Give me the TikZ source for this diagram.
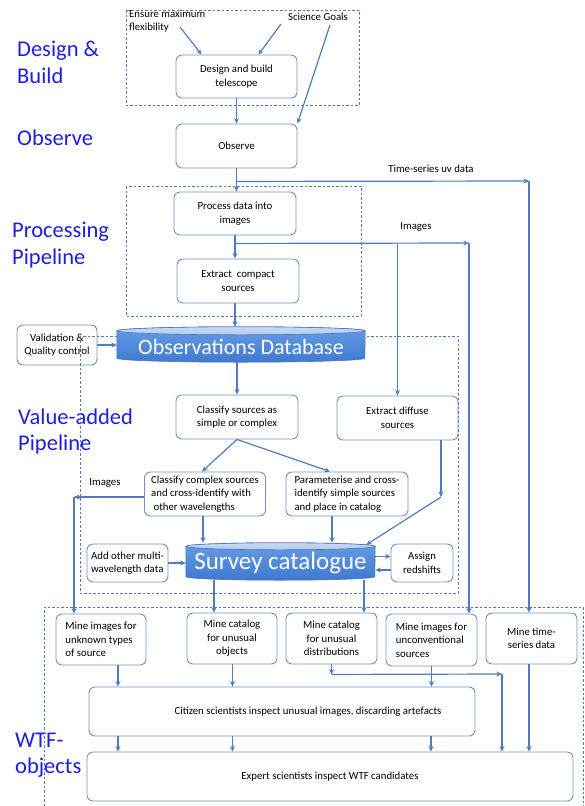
\documentclass[tikz,border=0pt]{standalone}
\usepackage{fontspec}
\setmainfont{Carlito}
\usetikzlibrary{arrows.meta, positioning}

\definecolor{boxline}{RGB}{112,146,200}
\definecolor{flowline}{RGB}{78,124,188}
\definecolor{stageblue}{RGB}{30,30,225}
\definecolor{dbhigh}{RGB}{104,156,228}
\definecolor{dblow}{RGB}{62,122,208}
\definecolor{dbcap}{RGB}{176,202,238}
\definecolor{dbedge}{RGB}{72,116,186}

% cylinder behind a database node: #1 node, #2 x radius, #3 y radius
\newcommand{\dbdrum}[3]{%
  \path[draw=dbedge, line width=0.6pt, top color=dbhigh, bottom color=dblow]
    ([yshift=-#3]#1.north west) -- ([yshift=#3]#1.south west)
    arc[start angle=180, end angle=360, x radius=#2, y radius=#3]
    -- ([yshift=-#3]#1.north east)
    arc[start angle=0, end angle=180, x radius=#2, y radius=#3] -- cycle;
  \path[draw=dbedge, line width=0.6pt, top color=dbcap!70!white, bottom color=dbcap]
    ([yshift=-#3]#1.north) ellipse[x radius=#2, y radius=#3];
}

\begin{document}
\begin{tikzpicture}[x=1pt, y=-1pt, >={Stealth[length=5.5pt,width=5pt]}]
        \tikzstyle{stage} = [text=stageblue, font=\fontsize{22.5}{26.5}\selectfont, align=left, anchor=west, inner sep=0pt]
        \tikzstyle{task} = [rectangle, draw=boxline, line width=0.9pt, rounded corners=6pt, fill=white, align=center, font=\fontsize{10.8}{13.5}\selectfont, inner sep=1pt]
        \tikzstyle{note} = [font=\fontsize{10.8}{13}\selectfont, inner sep=1pt]
        \tikzstyle{db} = [rectangle, inner sep=0pt]
        \tikzstyle{dbtext} = [text=white, inner sep=0pt]
        \tikzstyle{group} = [draw=flowline, line width=0.7pt, dash pattern=on 2.5pt off 2pt]
        \tikzstyle{flow} = [draw=flowline, line width=1.2pt]

        \useasboundingbox (0,0) rectangle (585,806);

        % stage labels
        \node (lbldesign) [stage] at (17,62.5) {Design \&\\Build};
        \node (lblobserve) [stage] at (17,138) {Observe};
        \node (lblprocess) [stage] at (12,245) {Processing\\Pipeline};
        \node (lblvalue) [stage] at (18,431.5) {Value-added\\Pipeline};
        \node (lblwtf) [stage] at (15,755) {WTF-\\objects};

        % inputs
        \node (flex) [note, align=left, anchor=north west] at (128,9) {Ensure maximum\\flexibility};
        \node (goals) [note] at (318,17) {Science Goals};
        \coordinate (flextail) at (180,27);
        \coordinate (goalstail) at (281,24);
        \coordinate (goalsend) at (330,25);

        % design and processing
        \node (design) [task, minimum width=121pt, minimum height=43pt] at (236.5,76.5) {Design and build\\telescope};
        \node (observe) [task, minimum width=121pt, minimum height=44pt] at (236.5,146) {Observe};
        \node (process) [task, minimum width=122pt, minimum height=43pt] at (235,213.5) {Process data into\\images};
        \node (compact) [task, minimum width=122pt, minimum height=44pt] at (238,281) {Extract\ \ compact\\sources};
        \node (valid) [task, minimum width=80pt, minimum height=40pt] at (57,345) {Validation \&\\Quality control};

        % value-added
        \node (classify) [task, minimum width=122pt, minimum height=44pt] at (237,417) {Classify sources as\\simple or complex};
        \node (diffuse) [task, minimum width=121pt, minimum height=44pt] at (397.5,418) {Extract diffuse\\sources};
        \node (complex) [task, align=left, minimum width=121pt, minimum height=44pt] at (205,494) {Classify complex sources\\and cross-identify with\\\ other wavelengths};
        \node (simple) [task, align=left, minimum width=122pt, minimum height=44pt] at (347,494) {Parameterise and cross-\\identify simple sources\\and place in catalog};
        \node (multi) [task, align=left, minimum width=81pt, minimum height=38pt] at (127.5,563) {Add other multi-\\wavelength data};
        \node (redshift) [task, minimum width=62pt, minimum height=38pt] at (422,563) {Assign\\redshifts};

        % mining
        \node (mine1) [task, align=left, minimum width=90pt, minimum height=51pt] at (101,639.5) {Mine images for\\unknown types\\of source};
        \node (mine2) [task, minimum width=90pt, minimum height=51pt] at (232,638.5) {Mine catalog\\for unusual\\objects};
        \node (mine3) [task, minimum width=91pt, minimum height=51pt] at (331.5,638.5) {Mine catalog\\for unusual\\distributions};
        \node (mine4) [task, align=left, minimum width=91pt, minimum height=52pt] at (431.5,640) {Mine images for\\unconventional\\sources};
        \node (mine5) [task, minimum width=91pt, minimum height=51pt] at (531.5,638.5) {Mine time-\\series data};
        \node (citizen) [task, minimum width=386pt, minimum height=49pt] at (282,711.5) {\hspace*{52pt}Citizen scientists inspect unusual images, discarding artefacts};
        \node (expert) [task, minimum width=486pt, minimum height=49pt] at (330,776.5) {Expert scientists inspect WTF candidates};

        % stage frames
        \draw [group] (126,10) rectangle (359,105);
        \draw [group] (126,186) rectangle (361,316);
        \draw [group] (80,336) rectangle (458,593);
        \draw [group] (44,806) -- (44,607) -- (583,607) -- (583,806);

        % databases
        \node (obsdb) [db, minimum width=248pt, minimum height=35pt] at (241,344.5) {};
        \dbdrum{obsdb}{124pt}{4pt}
        \node (obsdbtext) [dbtext, font=\fontsize{22}{24}\selectfont] at ([yshift=-2pt]obsdb.center) {Observations Database};
        \node (survey) [db, minimum width=189pt, minimum height=37pt] at (280.5,561.5) {};
        \dbdrum{survey}{94.5pt}{3.5pt}
        \node (surveytext) [dbtext, font=\fontsize{25}{27}\selectfont] at ([yshift=-1pt]survey.center) {Survey catalogue};

        % labels on connectors
        \node (tslabel) [note] at (431,169) {Time-series uv data};
        \node (imglabel) [note] at (416,227) {Images};
        \node (imgleftlabel) [note] at (105,483) {Images};

        % connectors
        \draw [flow, ->] (flextail) -- ([xshift=-35pt]design.north);
        \draw [flow, ->] (goalstail) -- ([xshift=22pt]design.north);
        \draw [flow, ->] (goalsend) -- (observe.north east);
        \draw [flow, ->] (design) -- (observe);
        \draw [flow, ->] (observe.south) -- (observe.south |- process.north);

        \path (observe.south) ++(0,13) coordinate (tsfork);
        \coordinate (tscorner) at (529,181);
        \draw [flow, ->] (tsfork) -- (tscorner);
        \draw [flow, ->] (tscorner) -- (tscorner |- mine5.north);

        \draw [flow, ->] (process.south) -- (process.south |- compact.north);
        \path (process.south) ++(0,8) coordinate (imgfork);
        \coordinate (imgcorner) at (469,243);
        \draw [flow, ->] (imgfork) -- (imgcorner);
        \draw [flow, ->] (imgcorner) -- (imgcorner |- mine4.north);
        \draw [flow, ->] (diffuse.north |- imgfork) -- (diffuse.north);

        \draw [flow, ->] ([xshift=-3pt]compact.south) -- ([xshift=-3pt]compact.south |- obsdb.north);
        \draw [flow, ->] (valid.east) -- (valid.east -| obsdb.west);
        \draw [flow, ->] (classify.north |- obsdb.south) -- (classify.north);
        \draw [flow, ->] (classify.south) -- ([xshift=-3pt]complex.north);
        \draw [flow, ->] (classify.south) -- ([xshift=-17pt]simple.north);

        \coordinate (diffbend) at (441,497);
        \draw [flow, ->] (diffuse.south -| diffbend) -- (diffbend);
        \draw [flow, ->] (diffbend) -- ([xshift=-9pt, yshift=-2pt]survey.north east);
        \draw [flow, ->] ([xshift=-2pt]complex.south) -- ([xshift=-2pt]complex.south |- survey.north);
        \draw [flow, ->] ([xshift=-15pt]simple.south) -- ([xshift=-15pt]simple.south |- survey.north);
        \draw [flow, ->] (multi.east) -- (multi.east -| survey.west);
        \draw [flow, ->] ([yshift=5pt]survey.east) -- ([yshift=5pt]survey.east -| redshift.west);
        \draw [flow, ->] ([yshift=-7pt]redshift.west) -- ([yshift=-7pt]redshift.west -| survey.east);

        \coordinate (imgleft) at (74,497);
        \draw [flow, ->] ([yshift=-3pt]complex.west) -- (imgleft);
        \draw [flow, ->] (imgleft) -- (imgleft |- mine1.north);
        \draw [flow, ->] ([xshift=-66.5pt]survey.south) -- ([xshift=-66.5pt]survey.south |- mine2.north);
        \draw [flow, ->] ([xshift=83.5pt]survey.south) -- ([xshift=83.5pt]survey.south |- mine3.north);

        \draw [flow, ->] ([xshift=17pt]mine1.south) -- ([xshift=17pt]mine1.south |- citizen.north);
        \draw [flow, ->] ([xshift=0.5pt]mine2.south) -- ([xshift=0.5pt]mine2.south |- citizen.north);
        \path (mine3.south) ++(0,10) coordinate (distbend);
        \coordinate (distcorner) at (502,674);
        \draw [flow, ->] (mine3.south) -- (distbend);
        \draw [flow, ->] (distbend) -- (distcorner);
        \draw [flow, ->] (distcorner) -- (distcorner |- expert.north);
        \draw [flow, ->] (mine4.south) -- (mine4.south |- citizen.north);
        \draw [flow, ->] ([xshift=-2.5pt]mine5.south) -- ([xshift=-2.5pt]mine5.south |- expert.north);

        \draw [flow, ->] ([xshift=-164pt]citizen.south) -- ([xshift=-164pt]citizen.south |- expert.north);
        \draw [flow, ->] ([xshift=-49.5pt]citizen.south) -- ([xshift=-49.5pt]citizen.south |- expert.north);
        \draw [flow, ->] ([xshift=149pt]citizen.south) -- ([xshift=149pt]citizen.south |- expert.north);
    \end{tikzpicture}
\end{document}
